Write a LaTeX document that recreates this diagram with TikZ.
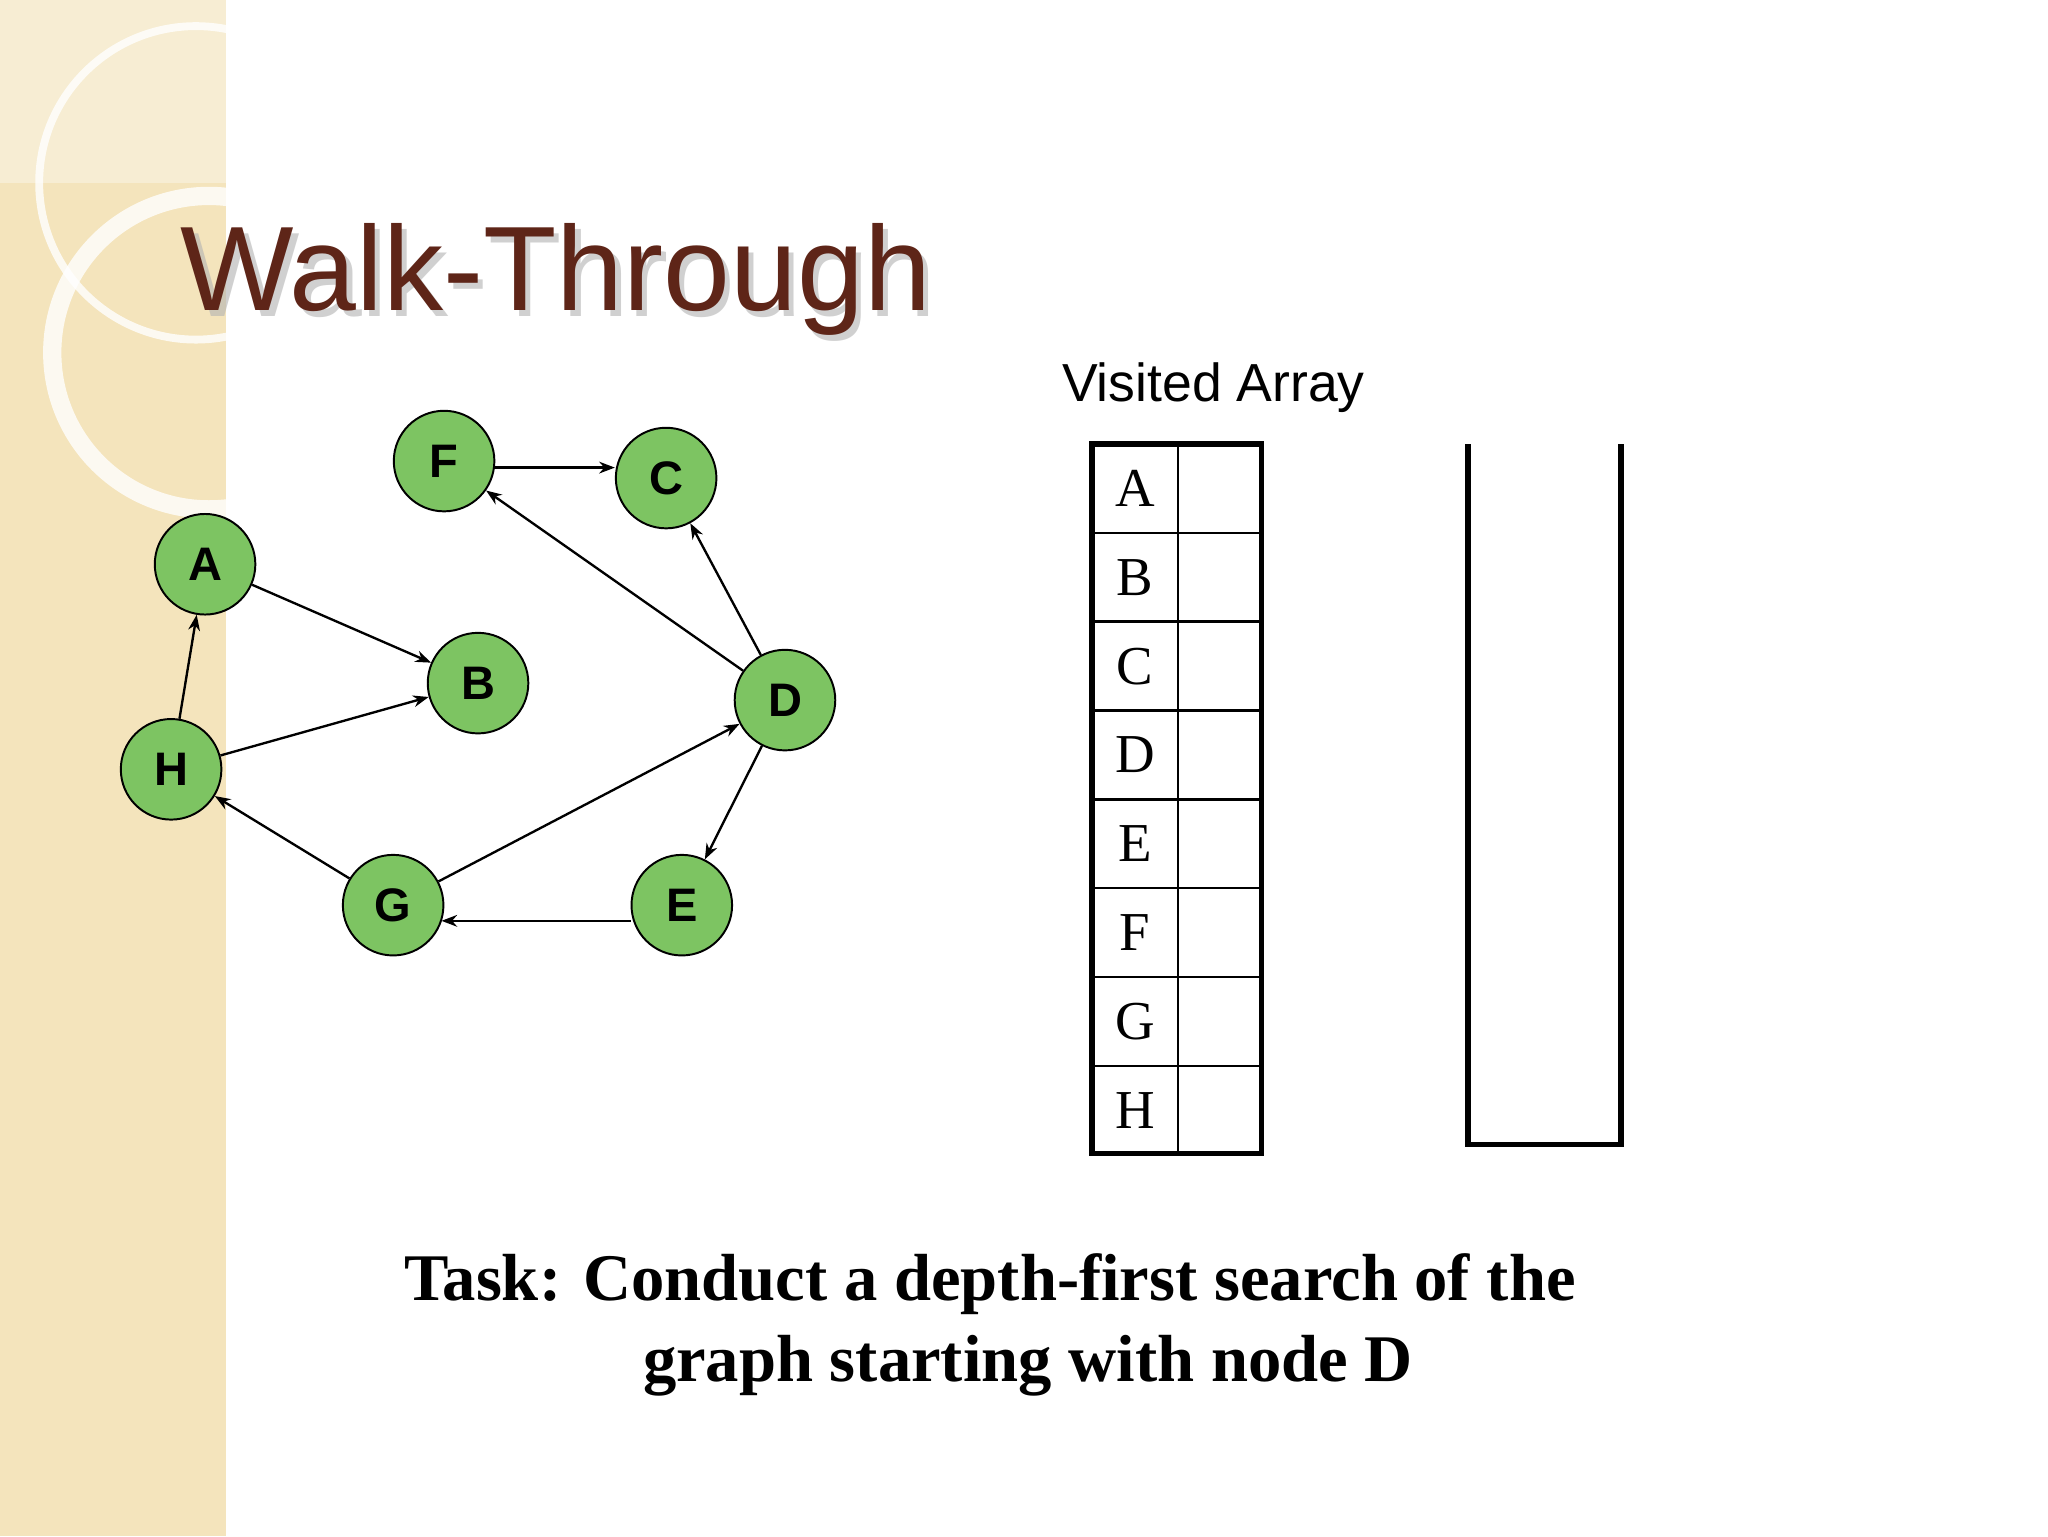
\documentclass[tikz,border=0pt]{standalone}
\usepackage{fontspec}
\setmainfont{Liberation Serif}
\setsansfont{Liberation Sans}
\usetikzlibrary{arrows.meta,shadows}
\definecolor{band}{HTML}{F4E4BC}
\definecolor{titlec}{HTML}{5E2518}
\definecolor{nodeg}{HTML}{7DC462}
\begin{document}
\begin{tikzpicture}[x=1pt,y=-1pt,
  vert/.style={circle,draw=black,line width=1.5pt,fill=nodeg,minimum size=77pt,inner sep=0pt,font=\sffamily\bfseries\fontsize{36}{36}\selectfont},
  edge/.style={-{Stealth[length=12pt,width=9pt]},line width=1.8pt},
  cellt/.style={font=\fontsize{42}{42}\selectfont}]
\useasboundingbox (0,0) rectangle (1568,1176);
\fill[white] (0,0) rectangle (1568,1176);
\fill[band] (0,0) rectangle (173,1176);
\fill[white,opacity=0.35] (0,0) rectangle (173,140);
\begin{scope}
\clip (0,0) rectangle (173,1176);
\draw[white,line width=6pt,opacity=0.8] (150,140) circle (120);
\draw[white,line width=14pt,opacity=0.8] (160,270) circle (120);
\end{scope}
\node[anchor=base west,font=\sffamily\fontsize{92}{92}\selectfont,text=gray!60,opacity=0.6] at (139,242) {Walk-Through};
\node[anchor=base west,font=\sffamily\fontsize{92}{92}\selectfont,text=titlec] (title) at (135,238) {Walk-Through};
\node[vert] (F) at (340,353) {F};
\node[vert] (C) at (510,366) {C};
\node[vert] (A) at (157,432) {A};
\node[vert] (B) at (366,523) {B};
\node[vert] (D) at (601,536) {D};
\node[vert] (H) at (131,589) {H};
\node[vert] (G) at (301,693) {G};
\node[vert] (E) at (522,693) {E};
\draw[edge] (378,358) -- (C.west |- 0,358);
\draw[edge] (D) -- (F);
\draw[edge] (D) -- (C);
\draw[edge] (A) -- (B);
\draw[edge] (H) -- (A);
\draw[edge] (H) -- (B);
\draw[edge] (G) -- (D);
\draw[edge] (D) -- (E);
\draw[edge] (E.west |- 0,705) -- (338,705);
\draw[edge] (G) -- (H);
\node[font=\sffamily\fontsize{41}{41}\selectfont] (va) at (929,297) {Visited Array};
\foreach \l [count=\i from 0] in {A,B,C,D,E,F,G,H}{
  \draw[line width=2pt] (836,340+68*\i) rectangle (966,408+68*\i);
  \node[cellt] (c\l) at (869,374+68*\i) {\l};
}
\draw[line width=2pt] (902,340) -- (902,883);
\draw[line width=4pt] (836,340) rectangle (966,883);
\draw[line width=4pt] (1124,340) -- (1124,876) -- (1241,876) -- (1241,340);
\node[font=\bfseries\fontsize{51}{51}\selectfont] (t1) at (758,983) {Task: Conduct a depth-first search of the};
\node[font=\bfseries\fontsize{51}{51}\selectfont] (t2) at (787,1046) {graph starting with node D};
\end{tikzpicture}
\end{document}
